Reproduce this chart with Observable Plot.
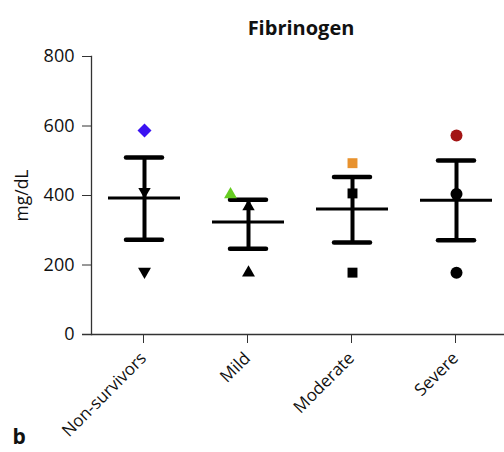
<!DOCTYPE html>
<html><head><meta charset="utf-8">
<script src="https://cdn.jsdelivr.net/npm/d3@7"></script>
<script src="https://cdn.jsdelivr.net/npm/@observablehq/plot@0.6"></script>
<style>body{margin:0;background:#fff;font-family:"Open Sans",sans-serif}</style>
</head><body><div id="chart"></div>
<script>
const groups = ["Non-survivors", "Mild", "Moderate", "Severe"];
const means = [393, 324, 361, 386];
const upper = [509, 388, 453, 501];
const lower = [273, 247, 265, 271];
const highValues = [587, 403, 493, 573];
const midValues = [411, 368, 406, 404];
const lowValues = [181, 178, 178, 178];
const highColors = ["#3a12f2", "#66cc22", "#e8922e", "#a31515"];
const yTicks = [0, 200, 400, 600, 800];

const rows = groups.map((g, i) => ({g, mean: means[i], hi: upper[i], lo: lower[i], top: highValues[i], mid: midValues[i], low: lowValues[i], color: highColors[i]}));

function pts(i, key, symbol, r, rotate, fill, dx = 0) {
  return Plot.dot([rows[i]], {x: "g", y: key, symbol, r, rotate, fill, stroke: null, dx});
}

const marks = [
  Plot.ruleY([0], {stroke: "#333", strokeWidth: 1.3, insetLeft: -9}),
  Plot.frame({anchor: "left", stroke: "#333", strokeWidth: 1.3}),
  Plot.axisY({ticks: yTicks, tickSize: 9, tickPadding: 8, fontSize: 18, label: null, stroke: "#333", fill: "#111"}),
  Plot.axisX({tickSize: 9, tickPadding: 12, tickRotate: -45, fontSize: 17, label: null, stroke: "#333", fill: "#111", dx: -1}),
  Plot.text(["mg/dL"], {frameAnchor: "left", textAnchor: "middle", rotate: -90, dx: -69, fontSize: 17.5, fill: "#111"}),
  Plot.text(["Fibrinogen"], {frameAnchor: "top", dy: -36, dx: 3, fontSize: 20, fontWeight: "bold", fill: "#111"}),
  Plot.text(["b"], {frameAnchor: "bottom-left", dx: -79, dy: 109, fontSize: 21, fontWeight: "bold", fill: "#111"}),
  Plot.ruleX(rows, {x: "g", y1: "lo", y2: "hi", stroke: "#000", strokeWidth: 4}),
  Plot.tickY(rows, {x: "g", y: "hi", stroke: "#000", strokeWidth: 4.5, strokeLinecap: "round", insetLeft: 34, insetRight: 34}),
  Plot.tickY(rows, {x: "g", y: "lo", stroke: "#000", strokeWidth: 4.5, strokeLinecap: "round", insetLeft: 34, insetRight: 34}),
  Plot.tickY(rows, {x: "g", y: "mean", stroke: "#000", strokeWidth: 3, insetLeft: 16, insetRight: 16}),
  // Non-survivors
  pts(0, "top", "square", 5.6, 45, highColors[0]),
  pts(0, "mid", "triangle", 4.6, 180, "#000"),
  pts(0, "low", "triangle", 4.8, 180, "#000"),
  // Mild
  pts(1, "top", "triangle", 4.8, 0, highColors[1], -18),
  pts(1, "mid", "triangle", 4.6, 0, "#000"),
  pts(1, "low", "triangle", 4.8, 0, "#000"),
  // Moderate
  pts(2, "top", "square", 5.6, 0, highColors[2]),
  pts(2, "mid", "square", 5.6, 0, "#000"),
  pts(2, "low", "square", 5.6, 0, "#000"),
  // Severe
  pts(3, "top", "circle", 6, 0, highColors[3]),
  pts(3, "mid", "circle", 6, 0, "#000"),
  pts(3, "low", "circle", 6, 0, "#000")
];

const chart = Plot.plot({
  width: 504, height: 452, marginLeft: 91, marginRight: 0, marginTop: 56, marginBottom: 118,
  style: {fontFamily: "'Open Sans', sans-serif", fontSize: "18px", color: "#111", background: "#fff"},
  x: {type: "band", domain: groups, range: [90.7, 509.3], padding: 0},
  y: {domain: [0, 800], range: [334, 56]},
  marks
});
document.getElementById("chart").appendChild(chart);
</script>
</body></html>
